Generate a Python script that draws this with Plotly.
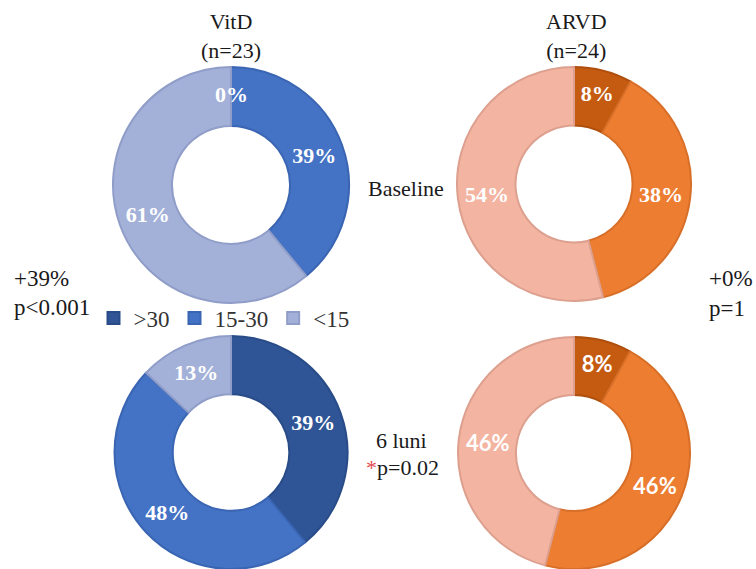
import plotly.graph_objects as go
import math

# Vitamin D status categories (ng/mL)
categories = [">30", "15-30", "<15"]

# Share of patients in each category (%)
vitd_baseline = [0, 39, 61]
vitd_6luni = [39, 48, 13]
arvd_baseline = [8, 38, 54]
arvd_6luni = [8, 46, 46]

row_labels = ["Baseline", "6 luni"]

blue_fill = ["#2F5597", "#4472C4", "#A3B1D9"]
blue_edge = ["#294C88", "#3A65B2", "#8F9DC8"]
orange_fill = ["#C55A11", "#ED7D31", "#F3B4A1"]
orange_edge = ["#AE4F0E", "#D86F28", "#DDA08F"]

W, H = 756, 569
SERIF = "Liberation Serif, Times New Roman, serif"
SANS = "Lato, Open Sans, Arial, sans-serif"

fig = go.Figure()


def dom_x(x0, x1):
    return [x0 / W, x1 / W]


def dom_y(top, bottom):
    return [max(0, 1 - bottom / H), 1 - top / H]


pies = [
    (vitd_baseline, blue_fill, blue_edge, dom_x(113, 349), dom_y(67, 303), "legend", SERIF, True),
    (vitd_6luni, blue_fill, blue_edge, dom_x(113, 349), dom_y(336, 569), "legend", SERIF, False),
    (arvd_baseline, orange_fill, orange_edge, dom_x(457, 691), dom_y(67, 301), "legend2", SERIF, True),
    (arvd_6luni, orange_fill, orange_edge, dom_x(457, 691), dom_y(337, 569), "legend2", SANS, False),
]

for vals, fill, edge, dx, dy, leg, fam, show in pies:
    fig.add_trace(go.Pie(
        labels=categories,
        values=vals,
        hole=0.5,
        sort=False,
        direction="clockwise",
        rotation=0,
        domain=dict(x=dx, y=dy),
        marker=dict(colors=fill, line=dict(color=edge, width=2)),
        # zero-value slices have no wedge; their label is added separately
        texttemplate=["%{value}%" if v > 0 else "" for v in vals],
        textposition="inside",
        insidetextorientation="horizontal",
        textfont=dict(family=fam, size=22, color="white", weight="bold"),
        legend=leg,
        showlegend=show,
        hoverinfo="label+value",
    ))

# Label for the zero-value slice, placed on the ring at the slice's start
# angle (top of the ring).
cx, cy, r_out = 231, 185, 118
start = sum(vitd_baseline[:0]) / sum(vitd_baseline) * 2 * math.pi
r_lab = r_out * 0.77
fig.add_annotation(
    x=(cx + r_lab * math.sin(start)) / W,
    y=1 - (cy - r_lab * math.cos(start)) / H,
    xref="paper", yref="paper", showarrow=False,
    xanchor="center", yanchor="middle",
    text=f"<b>{vitd_baseline[0]}%</b>",
    font=dict(family=SERIF, size=22, color="white"),
)


def label(text, x, y, xanchor="center", size=22):
    fig.add_annotation(
        x=x / W, y=1 - y / H, xref="paper", yref="paper",
        text=text, showarrow=False, xanchor=xanchor, yanchor="middle",
        font=dict(family=SERIF, size=size, color="#1a1a1a"),
    )


label("VitD<br>(n=23)", 231, 36)
label("ARVD<br>(n=24)", 576, 36)
label(row_labels[0], 406, 189)
label(row_labels[1], 401, 440)
label('<span style="color:#E24A50">*</span>p=0.02', 403, 468)
label("+39%", 12, 278, xanchor="left", size=23)
label("p<0.001", 12, 307, xanchor="left", size=23)
label("+0%", 707, 278, xanchor="left", size=23)
label("p=1", 707, 308, xanchor="left", size=23)

legend_style = dict(
    orientation="h", xanchor="center", yanchor="middle",
    y=1 - 318 / H, font=dict(family=SERIF, size=23, color="#333333"),
    bgcolor="rgba(0,0,0,0)", itemwidth=30, tracegroupgap=0,
)

fig.update_layout(
    width=W, height=H,
    margin=dict(l=0, r=0, t=0, b=0),
    paper_bgcolor="white",
    plot_bgcolor="white",
    legend=dict(x=224 / W, **legend_style),
    legend2=dict(x=578 / W, **legend_style),
    uniformtext=dict(minsize=22, mode="show"),
)

fig.write_html("out.html")
